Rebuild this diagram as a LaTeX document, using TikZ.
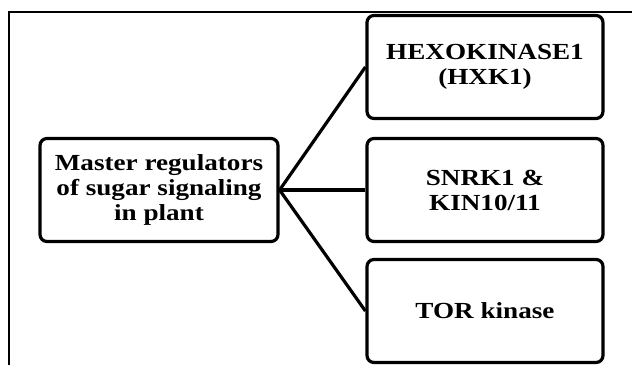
\documentclass[tikz,border=0pt]{standalone}
\usepackage{fontspec}
\setmainfont[FakeStretch=1.18]{Liberation Serif}
\begin{document}
\begin{tikzpicture}[x=1pt,y=-1pt,
  box/.style={draw,line width=3.2pt,rounded corners=7pt,align=center,
    font=\fontsize{23}{25}\selectfont\bfseries,inner sep=0pt,
    minimum width=236pt,minimum height=103pt},
  link/.style={line width=3.2pt}]
\useasboundingbox (0,0) rectangle (632,365);
\draw[line width=2pt] (9,365)--(9,12)--(632,12);
\node[box,minimum width=238pt] (master) at (159,190) {Master regulators\\of sugar signaling\\in plant};
\node[box] (hxk) at (485,67) {HEXOKINASE1\\(HXK1)};
\node[box] (snrk) at (485,190) {SNRK1 \&\\KIN10/11};
\node[box] (tor) at (485,311) {TOR kinase};
\foreach \n in {hxk,snrk,tor} \draw[link] (master.east)--(\n.west);
\end{tikzpicture}
\end{document}
